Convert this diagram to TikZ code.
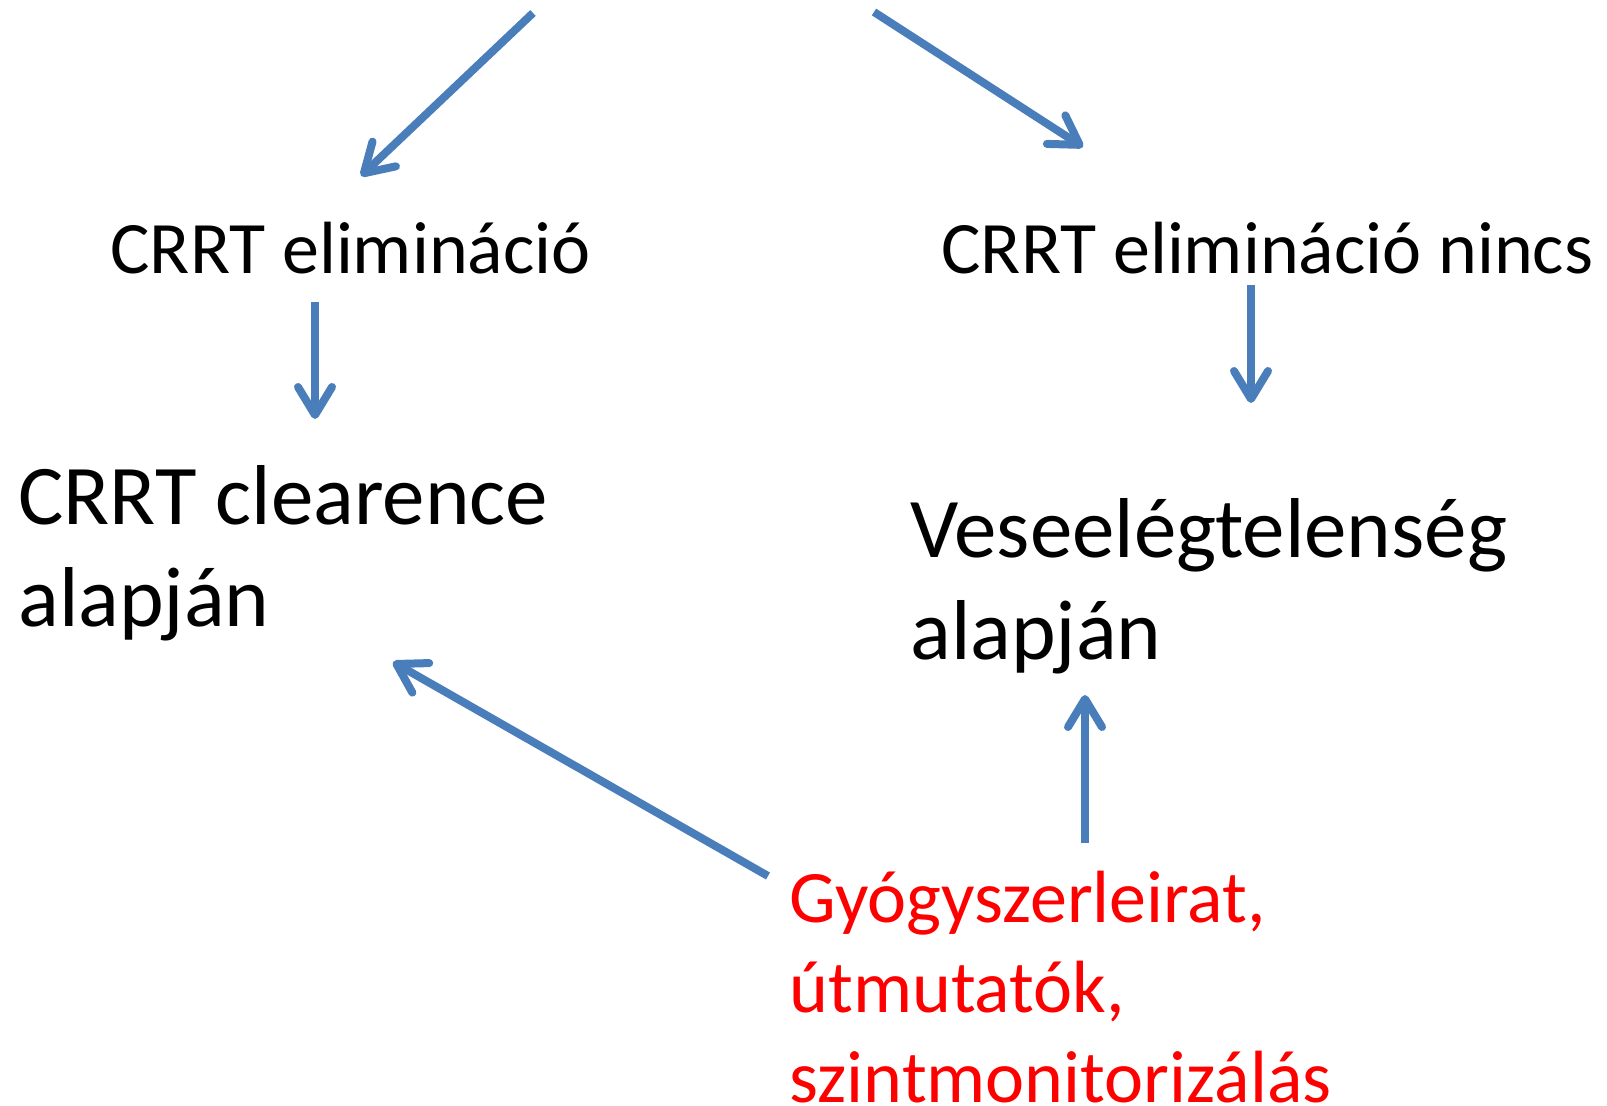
\documentclass[tikz,border=0pt]{standalone}
\usepackage{fontspec}
\setmainfont{Carlito}
\usetikzlibrary{arrows.meta,calc}
\definecolor{flowblue}{RGB}{74,126,187}
\newcommand{\lines}[1]{\begin{tabular}[t]{@{}l@{}}#1\end{tabular}}
\tikzset{
  txt/.style={anchor=base west,inner sep=0pt},
  small/.style={font=\fontsize{37pt}{45pt}\selectfont},
  big/.style={font=\fontsize{42.5pt}{51pt}\selectfont},
  flow/.style={draw=flowblue,line width=4pt,-{Straight Barb[length=14pt,width=17pt,round]}}
}
\begin{document}
\begin{tikzpicture}[x=0.5pt,y=-0.5pt]
      \useasboundingbox (0,0) rectangle (1607,1106);
      \coordinate (t1) at (533,13);
      \coordinate (t2) at (874,12);
      \path
        (110,274) node[txt,small] (elim){CRRT elimináció}
        (941,274) node[txt,small] (noelim){CRRT elimináció nincs}
        (18,525) node[txt,big] (clear){\lines{CRRT clearence\\alapján}}
        (910,558) node[txt,big] (vese){\lines{Veseelégtelenség\\alapján}}
        (789,922) node[txt,small,text=red] (leir){\lines{Gyógyszerleirat,\\útmutatók,\\szintmonitorizálás}};
      \begin{scope}[flow]
        \draw (t1) to ($(elim.base west)+(251,-98)$);
        \draw (t2) to ($(noelim.base west)+(142,-127)$);
        \draw ($(elim.base west)+(205,28)$) to ($(clear.base west)+(297,-106)$);
        \draw ($(noelim.base west)+(310,11)$) to ($(vese.base west)+(341,-155)$);
        \draw ($(leir.base west)+(-21,-46)$) to ($(clear.base west)+(375,137)$);
        \draw ($(leir.base west)+(296,-79)$) to ($(vese.base west)+(175,137)$);
      \end{scope}
    \end{tikzpicture}
\end{document}
